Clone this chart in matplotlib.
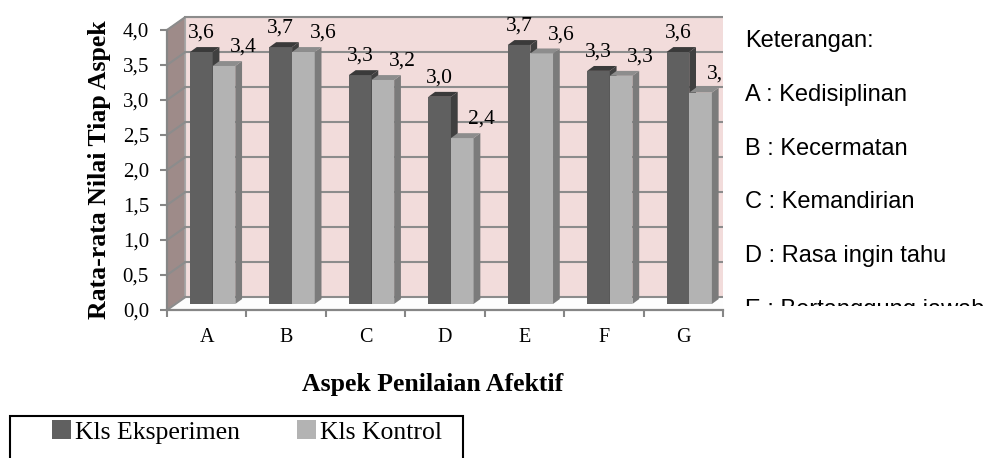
import matplotlib
matplotlib.use("Agg")
import matplotlib.pyplot as plt
from matplotlib.patches import Polygon, Patch, Rectangle
from matplotlib.ticker import FuncFormatter

# ---- data ----
categories = ["A", "B", "C", "D", "E", "F", "G"]
eksperimen = [3.60, 3.67, 3.27, 2.96, 3.70, 3.33, 3.60]
kontrol = [3.40, 3.60, 3.20, 2.37, 3.58, 3.26, 3.02]
series_names = ["Kls Eksperimen", "Kls Kontrol"]
y_ticks = [0.0, 0.5, 1.0, 1.5, 2.0, 2.5, 3.0, 3.5, 4.0]
keterangan = ["Keterangan:", "A : Kedisiplinan", "B : Kecermatan",
              "C : Kemandirian", "D : Rasa ingin tahu", "E : Bertanggung jawab"]
x_title = "Aspek Penilaian Afektif"
y_title = "Rata-rata Nilai Tiap Aspek"

SERIF = "Liberation Serif"
SANS = "Liberation Sans"

W, H = 987, 458
fig = plt.figure(figsize=(W / 100, H / 100), dpi=100)
fig.patch.set_facecolor("white")

# main axes (front plane); pixel geometry
x0_px, x1_px = 167, 723
y0_px = 310
px_per_y = 70
ymax = 4.4
ax = fig.add_axes([x0_px / W, (H - y0_px) / H, (x1_px - x0_px) / W, ymax * px_per_y / H])
n = len(categories)
ax.set_xlim(0, (x1_px - x0_px) / 80)
ax.set_ylim(0, ymax)
ax.patch.set_visible(False)

# depth of the 3D box
DX, DY = 0.225, 0.18
ytop = y_ticks[-1]

# walls
left_wall = Polygon([(0, 0), (DX, DY), (DX, ytop + DY), (0, ytop)], closed=True,
                    facecolor="#9e8b89", edgecolor="#a0a0a0", lw=0.8, zorder=0)
back_wall = Polygon([(DX, DY), (n + DX, DY), (n + DX, ytop + DY), (DX, ytop + DY)], closed=True,
                    facecolor="#f2dcdb", edgecolor="#a8a8a8", lw=0.8, zorder=0)
floor = Polygon([(0, 0), (n, 0), (n + DX, DY), (DX, DY)], closed=True,
                facecolor="#fdfdfd", edgecolor="#d0d0d0", lw=0.8, zorder=0.5)
for p in (left_wall, back_wall, floor):
    ax.add_patch(p)

grid_col = "#8c8c8c"
for v in y_ticks:
    ax.plot([DX, n + DX], [v + DY, v + DY], color=grid_col, lw=1.5, zorder=1)
    ax.plot([0, DX], [v, v + DY], color=grid_col, lw=1.5, zorder=1)

# bars
BW = 0.285
BX0 = 0.29
BOT = 0.086
BDX, BDY = 0.085, 0.07
styles = [
    dict(front="#606060", side="#404040", top="#3a3a3a"),
    dict(front="#b3b3b3", side="#7b7b7b", top="#8d8d8d"),
]
label_dx_pts = [0, 14]
for k, vals in enumerate([eksperimen, kontrol]):
    st = styles[k]
    xs = [i + BX0 + k * BW for i in range(n)]
    bars = ax.bar(xs, vals, width=BW, bottom=BOT, align="edge",
                  color=st["front"], edgecolor="none", zorder=2 + k)
    for rect, v in zip(bars, vals):
        xl = rect.get_x()
        xr = xl + rect.get_width()
        yb = rect.get_y()
        yt = yb + rect.get_height()
        side = Polygon([(xr, yb), (xr + BDX, yb + BDY), (xr + BDX, yt + BDY), (xr, yt)],
                       closed=True, facecolor=st["side"], edgecolor="none", zorder=2 + k)
        top = Polygon([(xl, yt), (xr, yt), (xr + BDX, yt + BDY), (xl + BDX, yt + BDY)],
                      closed=True, facecolor=st["top"], edgecolor="none", zorder=2 + k)
        ax.add_patch(side)
        ax.add_patch(top)
        ax.annotate(f"{v:.1f}".replace(".", ","), xy=((xl + xr) / 2, yt),
                    xytext=(label_dx_pts[k], 13.5), textcoords="offset points",
                    ha="center", va="center", fontsize=15.5, family=SERIF,
                    color="black", clip_on=True, zorder=6)

# axes styling
axis_col = "#868686"
for s in ("top", "right"):
    ax.spines[s].set_visible(False)
ax.spines["left"].set_bounds(0, ytop)
ax.spines["left"].set_color(axis_col)
ax.spines["left"].set_linewidth(1.6)
ax.spines["bottom"].set_color(axis_col)
ax.spines["bottom"].set_linewidth(1.6)
ax.spines["left"].set_zorder(4)
ax.spines["bottom"].set_zorder(4)

ax.set_yticks(y_ticks)
ax.yaxis.set_major_formatter(FuncFormatter(lambda v, p: f"{v:.1f}".replace(".", ",")))
ax.tick_params(axis="y", direction="out", length=5, width=1.5, color=axis_col,
               pad=8, labelsize=15)
ax.set_xticks(range(n + 1))
ax.set_xticklabels([""] * (n + 1))
ax.set_xticks([i + 0.5 for i in range(n)], minor=True)
ax.set_xticklabels(categories, minor=True)
ax.tick_params(axis="x", which="major", direction="out", length=5, width=1.5, color=axis_col)
ax.tick_params(axis="x", which="minor", length=0, pad=13, labelsize=14.5)
for lab in ax.get_xticklabels(minor=True) + ax.get_yticklabels():
    lab.set_family(SERIF)

ax.set_xlabel(x_title, fontsize=18.5, fontweight="bold", family=SERIF)
ax.xaxis.set_label_coords((433 - x0_px) / (x1_px - x0_px), (y0_px - 385) / (ymax * px_per_y))
ax.xaxis.label.set_va("center")
ax.set_ylabel(y_title, fontsize=18.5, fontweight="bold", family=SERIF)
ax.yaxis.set_label_coords((100 - x0_px) / (x1_px - x0_px), (y0_px - 170) / (ymax * px_per_y))
ax.yaxis.label.set_va("center")

# keterangan text box (clipped)
clip_bottom = 306
tax = fig.add_axes([x1_px / W, (H - clip_bottom) / H, (W - x1_px) / W, clip_bottom / H])
tax.set_xlim(x1_px, W)
tax.set_ylim(clip_bottom, 0)
tax.axis("off")
tax.patch.set_visible(False)
for j, line in enumerate(keterangan):
    tax.text(745, 47 + j * 53.8, line, fontsize=17, family=SANS, ha="left",
             va="baseline", clip_on=True)

# legend
handles = [Patch(facecolor=styles[0]["front"], edgecolor="none"),
           Patch(facecolor=styles[1]["front"], edgecolor="none")]
leg = fig.legend(handles, series_names, ncol=2, loc="center left",
                 bbox_to_anchor=(52 / W, 1 - 432 / H), frameon=False,
                 handlelength=0.75, handleheight=0.75, handletextpad=0.15,
                 columnspacing=2.2, borderpad=0, borderaxespad=0,
                 prop={"family": SERIF, "size": 18.5})
fig.patches.append(Rectangle((10 / W, -0.05), 453 / W, (H - 416) / H + 0.05,
                             transform=fig.transFigure, fill=False,
                             edgecolor="black", lw=1.5))

fig.savefig("out.png", dpi=100, facecolor="white")
